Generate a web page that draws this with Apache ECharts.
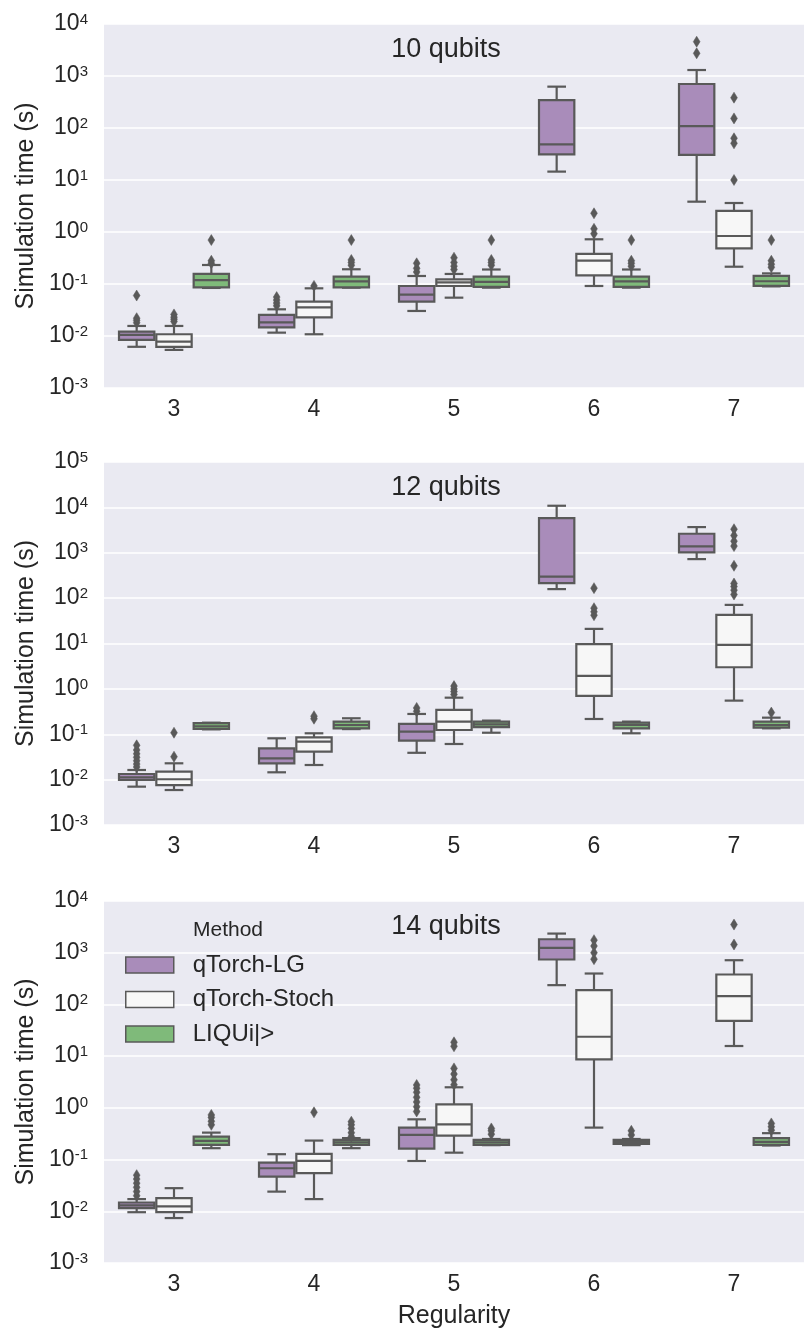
<!DOCTYPE html>
<html><head><meta charset="utf-8">
<script src="https://cdn.jsdelivr.net/npm/echarts@6/dist/echarts.min.js"></script>
<style>html,body{margin:0;padding:0;background:#fff}#c{width:804px;height:1331px}</style>
</head><body><div id="c"></div><script>
// ---------- data ----------
const categories = ['3', '4', '5', '6', '7'];
const methods = ['qTorch-LG', 'qTorch-Stoch', 'LIQUi|>'];
const panelTitles = ['10 qubits', '12 qubits', '14 qubits'];
const yExpMin = [-3, -3, -3];
const yExpMax = [4, 5, 4];

// box stats per regularity: [whiskerLow, q1, median, q3, whiskerHigh]; null = no box
const box10LG    = [[0.0062,0.0084,0.0105,0.0121,0.0156],[0.0116,0.0147,0.0183,0.0254,0.0326],[0.0303,0.0457,0.0622,0.0916,0.1426],[14.5,31.2,48.5,345,624],[3.83,30.3,109,702,1303]];
const box10Stoch = [[0.0054,0.0062,0.0078,0.0108,0.0156],[0.0108,0.0229,0.0356,0.0457,0.0826],[0.0546,0.0916,0.107,0.123,0.156],[0.0916,0.147,0.281,0.378,0.724],[0.215,0.485,0.838,2.54,3.61]];
const box10LIQ   = [[0.084,0.0863,0.119,0.156,0.232],[0.085,0.086,0.112,0.139,0.192],[0.085,0.088,0.11,0.139,0.19],[0.085,0.088,0.112,0.139,0.19],[0.09,0.092,0.113,0.143,0.16]];
const fl10LG     = [[0.018,0.020,0.022,0.060],[0.038,0.043,0.049,0.056],[0.17,0.20,0.25],[],[2730,4570]];
const fl10Stoch  = [[0.019,0.021,0.023,0.026],[0.092],[0.19,0.22,0.26,0.32],[0.93,1.15,2.29],[10.0,50.7,63.4,153,383]];
const fl10LIQ    = [[0.25,0.28,0.70],[0.23,0.26,0.29,0.70],[0.23,0.26,0.29,0.70],[0.22,0.25,0.28,0.70],[0.21,0.24,0.28,0.70]];

const box12LG    = [[0.0070,0.0098,0.0112,0.0133,0.0163],[0.0145,0.0229,0.0295,0.049,0.0814],[0.039,0.0723,0.114,0.169,0.28],[158,214,299,5820,10860],[724,1015,1375,2620,3680]];
const box12Stoch = [[0.0059,0.0076,0.0102,0.015,0.0229],[0.021,0.0413,0.069,0.0857,0.105],[0.061,0.124,0.19,0.343,0.64],[0.217,0.698,1.93,9.66,21],[0.551,3.0,9.33,42.9,71]];
const box12LIQ   = [[0.128,0.132,0.15,0.176,0.18],[0.13,0.135,0.16,0.19,0.225],[0.108,0.143,0.165,0.19,0.2],[0.105,0.135,0.16,0.18,0.19],[0.135,0.14,0.16,0.19,0.232]];
const fl12LG     = [[0.019,0.022,0.026,0.031,0.037,0.045,0.057],[],[0.32,0.38],[],[]];
const fl12Stoch  = [[0.032,0.108],[0.22,0.25],[0.75,0.87,1.0,1.15],[42,50,60,166],[120,150,180,210,515,1400,1800,2400,3300]];
const fl12LIQ    = [[],[],[],[],[0.3]];

const box14LG    = [[0.0096,0.0115,0.013,0.0148,0.0172],[0.024,0.047,0.068,0.0875,0.127],[0.094,0.163,0.30,0.415,0.60],[236,740,1240,1820,2345],null];
const box14Stoch = [[0.0074,0.0096,0.0124,0.018,0.028],[0.0172,0.0546,0.094,0.129,0.233],[0.136,0.29,0.48,1.17,2.5],[0.415,8.67,23.7,189,396],[15.7,48.2,145,379,716]];
const box14LIQ   = [[0.166,0.192,0.23,0.278,0.332],[0.166,0.192,0.215,0.24,0.26],[0.19,0.192,0.215,0.24,0.25],[0.19,0.20,0.22,0.24,0.25],[0.187,0.192,0.22,0.259,0.324]];
const fl14LG     = [[0.020,0.024,0.029,0.035,0.042,0.05],[],[0.85,1.05,1.3,1.6,2.0,2.4,2.77],[],[]];
const fl14Stoch  = [[],[0.82],[2.8,3.5,4.5,5.8,15.5,18.5],[750,1000,1350,1750],[1440,3500]];
const fl14LIQ    = [[0.47,0.55,0.65,0.73],[0.28,0.33,0.40,0.47,0.54],[0.31,0.36,0.40],[0.30,0.36],[0.37,0.43,0.50]];

// ---------- styling ----------
const methodColors = ['#a98cba', '#f7f7f7', '#7fba7a'];
const LINE = '#595959';
const TEXT = '#262626';
const panels = [
  { boxes: [box10LG, box10Stoch, box10LIQ], fliers: [fl10LG, fl10Stoch, fl10LIQ] },
  { boxes: [box12LG, box12Stoch, box12LIQ], fliers: [fl12LG, fl12Stoch, fl12LIQ] },
  { boxes: [box14LG, box14Stoch, box14LIQ], fliers: [fl14LG, fl14Stoch, fl14LIQ] }
];
const gridTops = [24, 462, 901];
const gridHeights = [364, 363, 362];
const titleY = [50, 488, 927];

function boxRenderer(k) {
  return function (params, api) {
    const cat = api.value(0);
    const band = api.size([1, 0])[0];
    const gw = band * 0.8, w = gw / 3;
    const base = api.coord([cat, api.value(3)]);
    const cx = base[0] - gw / 2 + w * (k + 0.5);
    const y = i => api.coord([cat, api.value(i)])[1];
    const yLo = y(1), yQ1 = y(2), yMed = y(3), yQ3 = y(4), yHi = y(5);
    const ls = { stroke: LINE, lineWidth: 2.2, fill: null };
    return { type: 'group', children: [
      { type: 'line', shape: { x1: cx, y1: yQ1, x2: cx, y2: yLo }, style: ls },
      { type: 'line', shape: { x1: cx, y1: yQ3, x2: cx, y2: yHi }, style: ls },
      { type: 'line', shape: { x1: cx - w / 4, y1: yLo, x2: cx + w / 4, y2: yLo }, style: ls },
      { type: 'line', shape: { x1: cx - w / 4, y1: yHi, x2: cx + w / 4, y2: yHi }, style: ls },
      { type: 'rect', shape: { x: cx - w / 2 + 1, y: yQ3, width: w - 2, height: yQ1 - yQ3 },
        style: { fill: methodColors[k], stroke: LINE, lineWidth: 2.2 } },
      { type: 'line', shape: { x1: cx - w / 2 + 1, y1: yMed, x2: cx + w / 2 - 1, y2: yMed }, style: ls }
    ]};
  };
}
function flierRenderer(k) {
  return function (params, api) {
    const cat = api.value(0);
    const band = api.size([1, 0])[0];
    const gw = band * 0.8, w = gw / 3;
    const p = api.coord([cat, api.value(1)]);
    const cx = p[0] - gw / 2 + w * (k + 0.5);
    return { type: 'polygon',
      shape: { points: [[cx, p[1] - 5.5], [cx + 3.4, p[1]], [cx, p[1] + 5.5], [cx - 3.4, p[1]]] },
      style: { fill: LINE, stroke: LINE, lineWidth: 0.5 } };
  };
}

const grids = [], xAxes = [], yAxes = [], series = [], graphics = [];
panels.forEach((pn, p) => {
  grids.push({ left: 104, right: -10, top: gridTops[p], height: gridHeights[p],
    show: true, backgroundColor: '#eaeaf2', borderWidth: 0 });
  xAxes.push({ type: 'category', gridIndex: p, data: categories,
    axisLine: { show: false }, axisTick: { show: false }, splitLine: { show: false },
    axisLabel: { fontSize: 23, color: TEXT, margin: 10, fontFamily: 'Liberation Sans' },
    name: p === 2 ? 'Regularity' : '', nameLocation: 'middle', nameGap: 41,
    nameTextStyle: { fontSize: 25, color: TEXT, fontFamily: 'Liberation Sans' } });
  yAxes.push({ type: 'log', logBase: 10, gridIndex: p,
    min: Math.pow(10, yExpMin[p]), max: Math.pow(10, yExpMax[p]), interval: 1,
    axisLine: { show: false }, axisTick: { show: false },
    splitLine: { show: true, lineStyle: { color: '#ffffff', width: 1.5 } },
    axisLabel: { margin: 16, color: TEXT, fontFamily: 'Liberation Sans',
      formatter: v => '{b|10}{s|' + Math.round(Math.log10(v)) + '}',
      rich: { b: { fontSize: 23, lineHeight: 24, color: TEXT, fontFamily: 'Liberation Sans' },
              s: { fontSize: 15, lineHeight: 15, verticalAlign: 'top', color: TEXT, fontFamily: 'Liberation Sans' } } },
    name: 'Simulation time (s)', nameLocation: 'middle', nameGap: 63,
    nameTextStyle: { fontSize: 25, color: TEXT, fontFamily: 'Liberation Sans' } });
  methods.forEach((m, k) => {
    const bdata = [];
    pn.boxes[k].forEach((b, ci) => { if (b) bdata.push([ci].concat(b)); });
    series.push({ type: 'custom', name: m, xAxisIndex: p, yAxisIndex: p,
      itemStyle: { color: methodColors[k] },
      renderItem: boxRenderer(k), encode: { x: 0, y: [1, 2, 3, 4, 5] }, data: bdata, silent: true });
    const fdata = [];
    pn.fliers[k].forEach((arr, ci) => arr.forEach(v => fdata.push([ci, v])));
    series.push({ type: 'custom', name: m, xAxisIndex: p, yAxisIndex: p,
      itemStyle: { color: methodColors[k] },
      renderItem: flierRenderer(k), encode: { x: 0, y: 1 }, data: fdata, silent: true, z: 3 });
  });
  graphics.push({ type: 'text', x: 446, y: titleY[p], z: 10,
    style: { text: panelTitles[p], fontSize: 27, fill: TEXT, fontFamily: 'Liberation Sans',
      textAlign: 'center', textVerticalAlign: 'middle' } });
});
graphics.push({ type: 'text', x: 193, y: 930, z: 10,
  style: { text: 'Method', fontSize: 21, fill: TEXT, fontFamily: 'Liberation Sans',
    textAlign: 'left', textVerticalAlign: 'middle' } });

const chart = echarts.init(document.getElementById('c'), null, { renderer: 'canvas' });
chart.setOption({
  animation: false,
  backgroundColor: '#ffffff',
  grid: grids, xAxis: xAxes, yAxis: yAxes, series: series,
  graphic: graphics,
  legend: {
    data: methods.map((m, k) => ({ name: m, icon: 'rect',
      itemStyle: { color: methodColors[k], borderColor: LINE, borderWidth: 1.5 } })),
    orient: 'vertical', left: 120, top: 948, itemWidth: 48, itemHeight: 16, itemGap: 10.5,
    selectedMode: false,
    textStyle: { fontSize: 24, color: TEXT, fontFamily: 'Liberation Sans', padding: [0, 0, 0, 14] }
  }
});
</script></body></html>
